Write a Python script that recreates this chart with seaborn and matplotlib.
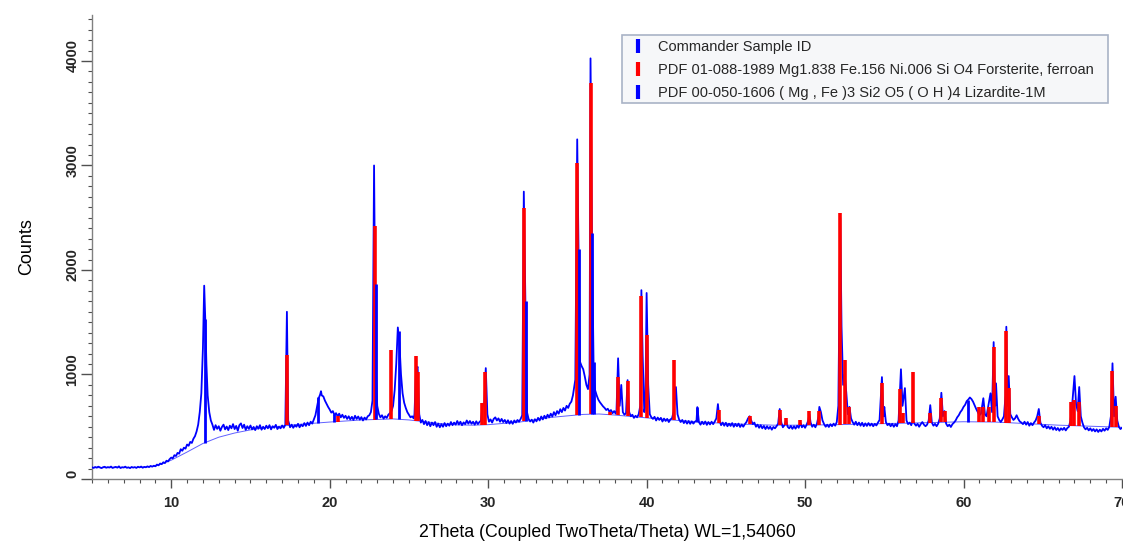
import numpy as np
import pandas as pd
import matplotlib
matplotlib.use("Agg")
import matplotlib.pyplot as plt
from matplotlib.lines import Line2D
from matplotlib.patches import Rectangle
from matplotlib.ticker import MultipleLocator
import matplotlib.transforms as mtransforms
import seaborn as sns

# ---------------- data ----------------
# measured scan: (2theta, counts)
scan_points = [
    (5.0, 112), (5.1, 106), (5.2, 115), (5.3, 109), (5.4, 118), (5.5, 111), (5.6, 104), (5.7, 113), (5.8, 117), (5.9, 108),
    (6.0, 114), (6.1, 110), (6.2, 119), (6.3, 106), (6.4, 112), (6.5, 116), (6.6, 109), (6.7, 121), (6.8, 105), (6.9, 113),
    (7.0, 110), (7.1, 118), (7.2, 107), (7.3, 112), (7.4, 104), (7.5, 115), (7.6, 109), (7.7, 114), (7.8, 106), (7.9, 117),
    (8.0, 111), (8.1, 119), (8.2, 108), (8.3, 116), (8.4, 112), (8.5, 121), (8.6, 114), (8.7, 125), (8.8, 118), (8.9, 127),
    (9.0, 122), (9.1, 138), (9.2, 131), (9.3, 148), (9.4, 142), (9.5, 160), (9.6, 152), (9.7, 175), (9.8, 168), (9.9, 190),
    (10.0, 205), (10.1, 198), (10.2, 228), (10.3, 220), (10.4, 250), (10.5, 242), (10.6, 285), (10.7, 270), (10.8, 300),
    (10.9, 290), (11.0, 330), (11.1, 318), (11.2, 355), (11.3, 345), (11.4, 385), (11.5, 410), (11.6, 455), (11.7, 520),
    (11.8, 640), (11.9, 820), (12.0, 1250), (12.08, 1850), (12.15, 1520), (12.22, 1100), (12.3, 800), (12.4, 640),
    (12.5, 560), (12.6, 520),
    (12.7, 470), (12.8, 515), (12.9, 480), (13.0, 505), (13.1, 462), (13.2, 498), (13.3, 520), (13.4, 475), (13.5, 502),
    (13.6, 468), (13.7, 510), (13.8, 485), (13.9, 525), (14.0, 478), (14.1, 508), (14.2, 462), (14.3, 515), (14.4, 532),
    (14.5, 488), (14.6, 520), (14.7, 470), (14.8, 505), (14.9, 480), (15.0, 512), (15.1, 475), (15.2, 498), (15.3, 468),
    (15.4, 505), (15.5, 482), (15.6, 515), (15.7, 472), (15.8, 500), (15.9, 478), (16.0, 510), (16.1, 485), (16.2, 515),
    (16.3, 475), (16.4, 505), (16.5, 490), (16.6, 518), (16.7, 478), (16.8, 500), (16.9, 485), (17.0, 512), (17.1, 490),
    (17.2, 520), (17.3, 1600), (17.38, 560),
    (17.5, 495), (17.6, 520), (17.7, 490), (17.8, 515), (17.9, 500), (18.0, 528), (18.1, 495), (18.2, 520), (18.3, 505),
    (18.4, 535), (18.5, 508), (18.6, 540), (18.7, 515), (18.8, 548), (18.9, 530), (19.0, 570), (19.1, 610), (19.2, 690),
    (19.3, 770), (19.4, 810), (19.45, 840), (19.5, 800), (19.6, 790), (19.7, 750), (19.8, 720), (19.9, 690), (20.0, 665),
    (20.1, 635), (20.2, 650), (20.3, 610), (20.4, 630), (20.5, 600), (20.6, 625), (20.7, 590), (20.8, 615), (20.9, 585),
    (21.0, 605), (21.1, 575), (21.2, 600), (21.3, 570), (21.4, 595), (21.5, 565), (21.6, 605), (21.7, 575), (21.8, 598),
    (21.9, 568), (22.0, 592), (22.1, 560), (22.2, 588), (22.3, 570), (22.4, 600), (22.5, 610), (22.6, 640), (22.7, 750),
    (22.8, 3000), (22.9, 1100), (23.0, 700), (23.1, 625), (23.2, 590), (23.3, 610), (23.4, 578), (23.5, 600), (23.6, 585),
    (23.7, 615), (23.8, 630), (23.9, 650), (24.0, 700), (24.1, 850), (24.2, 1100), (24.3, 1450), (24.4, 1300), (24.5, 1000),
    (24.6, 820), (24.7, 730), (24.8, 680), (24.9, 640), (25.0, 615), (25.1, 590), (25.2, 600), (25.3, 580), (25.35, 620),
    (25.45, 1050), (25.55, 1073), (25.65, 620), (25.75, 540), (25.85, 565), (25.95, 525), (26.05, 555), (26.15, 515),
    (26.25, 545), (26.35, 505), (26.45, 540), (26.55, 515), (26.65, 545), (26.75, 500), (26.85, 530), (26.95, 495),
    (27.05, 525), (27.15, 500), (27.25, 535), (27.35, 505), (27.45, 530), (27.55, 510), (27.65, 545), (27.75, 515),
    (27.85, 540), (27.95, 520), (28.05, 555), (28.15, 522), (28.25, 548), (28.35, 515), (28.45, 542), (28.55, 525),
    (28.65, 560), (28.75, 530), (28.85, 555), (28.95, 528), (29.05, 548), (29.15, 520), (29.25, 552), (29.35, 525),
    (29.45, 545), (29.55, 560), (29.65, 720), (29.75, 700), (29.85, 1061), (29.95, 620), (30.05, 548), (30.15, 570),
    (30.25, 540), (30.35, 575), (30.45, 590), (30.55, 560), (30.65, 580), (30.75, 548), (30.85, 575), (30.95, 545),
    (31.05, 565), (31.15, 535), (31.25, 562), (31.35, 530), (31.45, 555), (31.55, 528), (31.65, 560), (31.75, 540),
    (31.85, 565), (31.95, 548), (32.05, 575), (32.15, 610), (32.25, 2750), (32.35, 1730), (32.45, 640), (32.55, 575),
    (32.65, 550), (32.75, 568), (32.85, 540), (32.95, 572), (33.05, 552), (33.15, 585), (33.25, 560), (33.35, 598),
    (33.45, 570), (33.55, 605), (33.65, 580), (33.75, 615), (33.85, 590), (33.95, 625), (34.05, 598), (34.15, 640),
    (34.25, 610), (34.35, 650), (34.45, 625), (34.55, 668), (34.65, 640), (34.75, 680), (34.85, 655), (34.95, 700),
    (35.05, 680), (35.15, 720), (35.25, 740), (35.35, 800), (35.5, 950), (35.62, 3250), (35.7, 2220), (35.8, 1120),
    (35.9, 1080), (36.0, 1050), (36.1, 980), (36.2, 900), (36.3, 860), (36.4, 1000), (36.46, 4025), (36.55, 2350),
    (36.65, 1120), (36.75, 850), (36.85, 800), (36.95, 760), (37.05, 735), (37.15, 715), (37.25, 695), (37.35, 680),
    (37.45, 660), (37.55, 672), (37.65, 645), (37.75, 660), (37.85, 630), (37.95, 650), (38.05, 625), (38.1, 660),
    (38.2, 1155), (38.3, 700), (38.4, 900), (38.5, 640), (38.6, 615), (38.7, 630), (38.8, 946), (38.9, 640), (39.0, 600),
    (39.1, 615), (39.2, 585), (39.3, 605), (39.4, 590), (39.5, 620), (39.6, 700), (39.67, 1807), (39.75, 1185),
    (39.85, 640), (39.92, 700), (40.0, 1780), (40.1, 900), (40.2, 620), (40.3, 590), (40.4, 575), (40.5, 595), (40.6, 560),
    (40.7, 588), (40.8, 565), (40.9, 585), (41.0, 550), (41.1, 578), (41.2, 555), (41.3, 575), (41.4, 545), (41.5, 570),
    (41.6, 580), (41.7, 640), (41.85, 880), (41.95, 620), (42.05, 570), (42.15, 545), (42.25, 565), (42.35, 535),
    (42.45, 558), (42.55, 530), (42.65, 555), (42.75, 528), (42.85, 552), (42.95, 530), (43.05, 548), (43.15, 560),
    (43.2, 688), (43.3, 545), (43.4, 520), (43.5, 548), (43.6, 525), (43.7, 550), (43.8, 518), (43.9, 545), (44.0, 522),
    (44.1, 548), (44.2, 525), (44.3, 550), (44.4, 580), (44.5, 717), (44.6, 560), (44.7, 515), (44.8, 540), (44.9, 510),
    (45.0, 538), (45.1, 505), (45.2, 530), (45.3, 508), (45.4, 535), (45.5, 500), (45.6, 528), (45.7, 505), (45.8, 530),
    (45.9, 498), (46.0, 522), (46.1, 500), (46.2, 525), (46.3, 545), (46.4, 580), (46.5, 600), (46.6, 560), (46.7, 525),
    (46.8, 540), (46.9, 500), (47.0, 520), (47.1, 490), (47.2, 515), (47.3, 485), (47.4, 508), (47.5, 478), (47.6, 505),
    (47.7, 480), (47.8, 500), (47.9, 472), (48.0, 498), (48.1, 485), (48.2, 505), (48.3, 530), (48.4, 670), (48.5, 540),
    (48.6, 495), (48.7, 515), (48.8, 560), (48.9, 500), (49.0, 485), (49.1, 508), (49.2, 480), (49.3, 505), (49.4, 482),
    (49.5, 510), (49.6, 490), (49.7, 540), (49.8, 495), (49.9, 515), (50.0, 490), (50.1, 520), (50.2, 560), (50.27, 620),
    (50.35, 540), (50.45, 500), (50.55, 520), (50.65, 495), (50.75, 530), (50.85, 600), (50.9, 690), (51.0, 640),
    (51.1, 560), (51.2, 525), (51.3, 500), (51.4, 520), (51.5, 498), (51.6, 525), (51.7, 505), (51.8, 530), (51.9, 510),
    (52.0, 545), (52.1, 700), (52.22, 2500), (52.3, 1460), (52.4, 900), (52.5, 1000), (52.6, 830), (52.7, 620),
    (52.8, 690), (52.9, 580), (53.0, 545), (53.1, 520), (53.2, 548), (53.3, 515), (53.4, 540), (53.5, 510), (53.6, 538),
    (53.7, 505), (53.8, 532), (53.9, 508), (54.0, 535), (54.1, 510), (54.2, 530), (54.3, 505), (54.4, 528), (54.5, 512),
    (54.6, 540), (54.7, 565), (54.85, 975), (54.95, 600), (55.0, 690), (55.1, 545), (55.2, 515), (55.3, 530), (55.4, 505),
    (55.5, 528), (55.6, 500), (55.7, 525), (55.8, 505), (55.9, 560), (56.05, 1050), (56.15, 700), (56.3, 870), (56.4, 560),
    (56.5, 525), (56.6, 540), (56.7, 515), (56.8, 560), (56.9, 530), (57.0, 510), (57.1, 528), (57.2, 500), (57.3, 525),
    (57.4, 545), (57.5, 520), (57.6, 505), (57.7, 520), (57.8, 560), (57.9, 707), (58.0, 540), (58.1, 510), (58.2, 528),
    (58.3, 505), (58.4, 530), (58.5, 580), (58.6, 825), (58.7, 600), (58.8, 650), (58.9, 530), (59.0, 505), (59.1, 520),
    (59.2, 498), (59.3, 525), (59.4, 540), (59.5, 560), (59.6, 590), (59.7, 610), (59.8, 640), (59.9, 660), (60.0, 690),
    (60.1, 710), (60.2, 745), (60.3, 760), (60.4, 780), (60.5, 765), (60.6, 740), (60.7, 705), (60.8, 670), (60.9, 640),
    (61.0, 610), (61.1, 625), (61.25, 773), (61.35, 620), (61.45, 600), (61.55, 690), (61.7, 820), (61.8, 640),
    (61.9, 1310), (62.0, 700), (62.05, 915), (62.15, 600), (62.25, 565), (62.35, 545), (62.45, 570), (62.55, 600),
    (62.65, 800), (62.7, 1457), (62.78, 700), (62.85, 985), (62.95, 620), (63.05, 590), (63.15, 565), (63.25, 580),
    (63.35, 610), (63.45, 575), (63.55, 550), (63.65, 540), (63.75, 525), (63.85, 548), (63.95, 520), (64.05, 545),
    (64.15, 510), (64.25, 535), (64.35, 515), (64.45, 540), (64.55, 560), (64.65, 600), (64.75, 670), (64.85, 540),
    (64.95, 510), (65.05, 495), (65.15, 515), (65.25, 485), (65.35, 505), (65.45, 480), (65.55, 500), (65.65, 472),
    (65.75, 495), (65.85, 468), (65.95, 488), (66.05, 462), (66.15, 485), (66.25, 470), (66.35, 490), (66.45, 465),
    (66.55, 488), (66.65, 500), (66.75, 560), (66.85, 700), (67.0, 985), (67.1, 720), (67.2, 650), (67.3, 880),
    (67.4, 600), (67.5, 540), (67.6, 495), (67.7, 475), (67.8, 490), (67.9, 465), (68.0, 485), (68.1, 460), (68.2, 478),
    (68.3, 455), (68.4, 475), (68.5, 450), (68.6, 472), (68.7, 455), (68.8, 480), (68.9, 462), (69.0, 485), (69.1, 470),
    (69.2, 500), (69.3, 600), (69.4, 1107), (69.5, 600), (69.6, 787), (69.7, 560), (69.8, 500), (69.9, 478), (70.0, 490),
]
two_theta = [p[0] for p in scan_points]
counts = [p[1] for p in scan_points]

# fitted background curve
bg_theta = [5, 8, 9, 10, 11, 12, 13, 14, 15, 16, 18, 20, 22, 24, 25, 26, 27, 28, 29, 30, 32, 34,
            36, 37, 38, 40, 42, 44, 46, 48, 50, 52, 55, 58, 60, 62, 64, 66, 68, 70]
bg_counts = [108, 110, 122, 180, 258, 340, 400, 440, 470, 492, 522, 545, 565, 575, 565, 548, 530,
             518, 515, 520, 545, 590, 618, 622, 612, 585, 560, 540, 525, 515, 515, 520, 530, 540,
             548, 545, 530, 515, 505, 495]

# reference pattern sticks
forsterite_pos = [17.33, 20.5, 22.85, 23.9, 25.45, 25.6, 29.64, 29.8, 32.27, 35.1, 35.62, 36.46,
                  37.7, 38.2, 38.8, 39.62, 40.05, 41.75, 44.55, 46.5, 48.4, 48.8, 49.7, 50.27, 50.9,
                  52.2, 52.5, 52.8, 54.85, 56.0, 56.2, 56.8, 57.9, 58.6, 58.8, 61.0, 61.2, 61.6,
                  61.9, 62.7, 62.85, 64.75, 66.8, 67.0, 67.3, 69.4, 69.6]
forsterite_top = [1185, 600, 2420, 1233, 1176, 1026, 727, 1026, 2594, 600, 3020, 3785,
                  645, 975, 937, 1750, 1377, 1138, 660, 600, 660, 580, 560, 650, 650,
                  2550, 1140, 690, 920, 860, 630, 1023, 634, 777, 650, 690, 690, 690,
                  1265, 1418, 870, 600, 740, 755, 740, 1035, 700]

lizardite_pos = [12.1, 19.25, 20.3, 22.9, 24.35, 32.37, 35.75, 36.58, 36.7, 43.2, 60.25]
lizardite_top = [1530, 780, 620, 1870, 1420, 1700, 2200, 2350, 1120, 688, 760]

legend_labels = [
    "Commander Sample ID",
    "PDF 01-088-1989 Mg1.838 Fe.156 Ni.006 Si O4 Forsterite, ferroan",
    "PDF 00-050-1606 ( Mg , Fe )3 Si2 O5 ( O H )4 Lizardite-1M",
]

# ---------------- styling ----------------
sns.set_theme(style="white")
plt.rcParams["font.family"] = ["Liberation Sans", "DejaVu Sans"]

W, H = 1123, 543
fig = plt.figure(figsize=(W / 100, H / 100), dpi=100)
ax = fig.add_axes([92 / W, 1 - 479 / H, 1030 / W, 464 / H])

scan = pd.DataFrame({"two_theta": two_theta, "counts": counts})
bg = pd.DataFrame({"two_theta": bg_theta, "counts": bg_counts})

sns.lineplot(data=bg, x="two_theta", y="counts", ax=ax, color="#6060ff",
             linewidth=0.7, estimator=None, sort=False, zorder=2)
sns.lineplot(data=scan, x="two_theta", y="counts", ax=ax, color="#0000ff",
             linewidth=1.3, estimator=None, sort=False, zorder=3)

f_base = np.interp(forsterite_pos, bg_theta, bg_counts)
ax.vlines(forsterite_pos, f_base, forsterite_top, colors="#ff0000", linewidth=2.6, zorder=4)
l_base = np.interp(lizardite_pos, bg_theta, bg_counts)
ax.vlines(lizardite_pos, l_base, lizardite_top, colors="#0000ff", linewidth=2.0, zorder=5)

ax.set_xlim(5, 70)
ax.set_ylim(0, 4440)

ax.xaxis.set_major_locator(MultipleLocator(10))
ax.xaxis.set_minor_locator(MultipleLocator(1))
ax.yaxis.set_major_locator(MultipleLocator(1000))
ax.yaxis.set_minor_locator(MultipleLocator(100))

for s in ["top", "right"]:
    ax.spines[s].set_visible(False)
for s in ["left", "bottom"]:
    ax.spines[s].set_color("#808080")
    ax.spines[s].set_linewidth(1.0)

ax.tick_params(axis="x", which="major", direction="out", length=6.5, width=1.0,
               color="#505050", labelsize=10.5, pad=6, bottom=True)
ax.tick_params(axis="x", which="minor", direction="out", length=3, width=0.8,
               color="#505050", bottom=True)
ax.tick_params(axis="y", which="major", direction="out", length=8, width=1.0,
               color="#505050", labelsize=10.5, pad=1, left=True)
ax.tick_params(axis="y", which="minor", direction="out", length=3, width=0.8,
               color="#505050", left=True)

for lab in ax.get_xticklabels():
    lab.set_fontweight("bold")
offset = mtransforms.ScaledTranslation(0, 5 / 100, fig.dpi_scale_trans)
for lab in ax.get_yticklabels():
    lab.set_fontweight("bold")
    lab.set_rotation(90)
    lab.set_va("center")
    lab.set_transform(lab.get_transform() + offset)

ax.set_xlabel("2Theta (Coupled TwoTheta/Theta) WL=1,54060", fontsize=12.8, color="black", labelpad=10)
ax.set_ylabel("Counts", fontsize=13, color="black", labelpad=22)

# legend box (frame drawn as a patch in figure pixels)
fig.patches.append(Rectangle((622 / W, 1 - 103 / H), (1108 - 622) / W, (103 - 35) / H,
                             transform=fig.transFigure, facecolor="#f6f7f9",
                             edgecolor="#a9b3c6", linewidth=1.2, zorder=10))

handles = [
    Line2D([], [], linestyle="none", marker="|", markersize=10, markeredgewidth=3, color="#0000ff"),
    Line2D([], [], linestyle="none", marker="|", markersize=10, markeredgewidth=3, color="#ff0000"),
    Line2D([], [], linestyle="none", marker="|", markersize=10, markeredgewidth=3, color="#0000ff"),
]
leg = fig.legend(handles, legend_labels, loc="upper left",
                 bbox_to_anchor=(630.7 / W, 1 - 40.5 / H), bbox_transform=fig.transFigure,
                 fontsize=10.5, frameon=False, handlelength=1.0,
                 handletextpad=0.87, labelspacing=0.6, borderpad=0, borderaxespad=0)
leg.set_zorder(11)

fig.savefig("out.png", dpi=100)
